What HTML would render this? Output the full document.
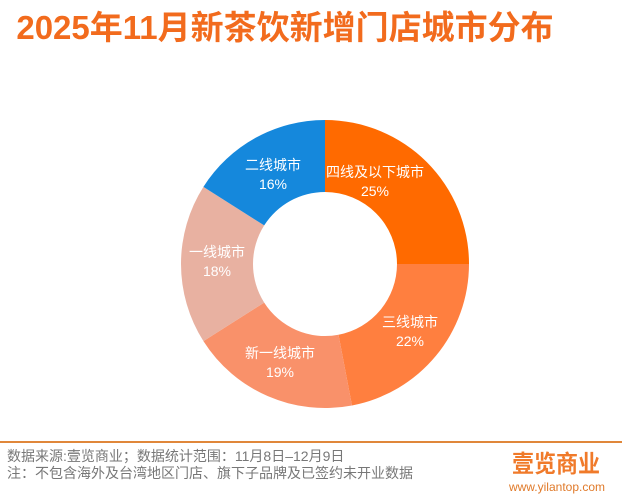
<!DOCTYPE html>
<html><head><meta charset="utf-8"><style>
body{margin:0;width:638px;height:497px;background:#fff;overflow:hidden;position:relative;font-family:"Liberation Sans","Noto Sans CJK SC",sans-serif}
.t{position:absolute;left:0;width:570px;top:1px;text-align:center;font-size:33px;font-weight:bold;color:#f26b1d;font-family:"Liberation Sans","Noto Sans CJK SC",sans-serif;white-space:nowrap}
.f{position:absolute;left:7px;font-size:14px;color:#777;white-space:nowrap}
</style></head><body>
<div class="t">2025年11月新茶饮新增门店城市分布</div>
<svg width="638" height="497" style="position:absolute;left:0;top:0">
<g id="d"></g>
<line x1="0" y1="442" x2="622" y2="442" stroke="#e0873a" stroke-width="2"/>
<text x="556" y="472" font-size="24" font-weight="bold" fill="#f07a2a" text-anchor="middle" font-family="Noto Sans CJK SC, sans-serif" textLength="88" lengthAdjust="spacingAndGlyphs">壹览商业</text>
<text x="557" y="491" font-size="12" fill="#e07a2a" text-anchor="middle" font-family="Liberation Sans, sans-serif">www.yilantop.com</text>
</svg>
<div class="f" style="top:446px">数据来源:壹览商业；数据统计范围：11月8日–12月9日</div>
<div class="f" style="top:463px">注：不包含海外及台湾地区门店、旗下子品牌及已签约未开业数据</div>
<script>
var cx=325,cy=264,R=144,r=72,vals=[25,22,19,18,16],cols=["#ff6a00","#ff7f3f","#f9916a","#e8b1a1","#1588dc"],
labs=[["四线及以下城市","25%",375,172],["三线城市","22%",410,322],["新一线城市","19%",280,353],["一线城市","18%",217,252],["二线城市","16%",273,165]];
var s="",a=0;
function pt(rr,f){var t=f*2*Math.PI;return [cx+rr*Math.sin(t),cy-rr*Math.cos(t)];}
for(var i=0;i<5;i++){var a0=a/100,a1=(a+vals[i])/100,L=vals[i]>50?1:0;
var p1=pt(R,a0),p2=pt(R,a1),p3=pt(r,a1),p4=pt(r,a0);
s+='<path d="M'+p1+'A'+R+','+R+' 0 '+L+' 1 '+p2+'L'+p3+'A'+r+','+r+' 0 '+L+' 0 '+p4+'Z" fill="'+cols[i]+'"/>';
var x=labs[i][2],y=labs[i][3];
s+='<text x="'+x+'" y="'+(y+5)+'" font-size="14" fill="#fff" text-anchor="middle" font-family="Liberation Sans, Noto Sans CJK SC, sans-serif">'+labs[i][0]+'</text>';
s+='<text x="'+x+'" y="'+(y+24)+'" font-size="14" fill="#fff" text-anchor="middle" font-family="Liberation Sans, sans-serif">'+labs[i][1]+'</text>';
a+=vals[i];}
document.getElementById("d").innerHTML=s;
</script>
</body></html>
